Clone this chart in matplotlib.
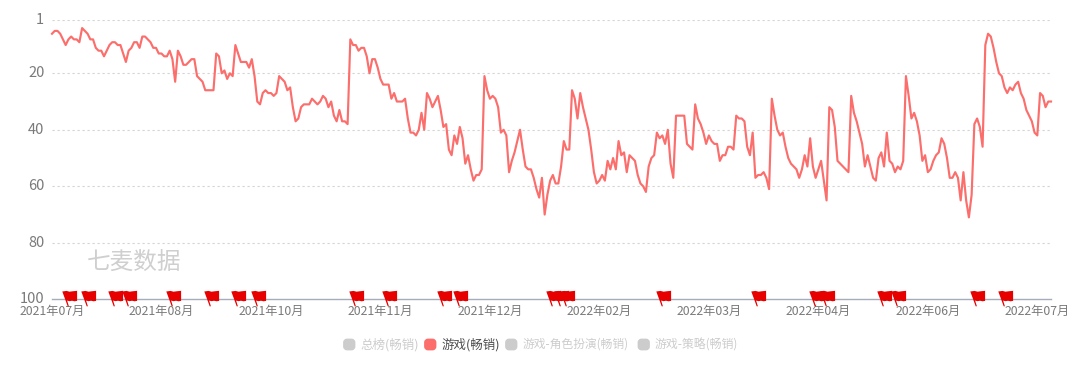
import matplotlib
matplotlib.use("Agg")
import matplotlib.pyplot as plt
from matplotlib.path import Path
from matplotlib.patches import FancyBboxPatch
from matplotlib.transforms import ScaledTranslation
import numpy as np

plt.rcParams['font.family'] = ['Noto Sans CJK SC', 'DejaVu Sans']

ranks = [
 6,5,5,6,8,10,8,7,8,8,9,4,5,6,8,8,11,12,12,14,12,10,9,9,10,10,13,16,12,11,9,9,11,7,7,8,9,11,11,13,
 13,14,14,12,15,23,12,14,17,17,16,15,15,21,22,23,26,26,26,26,13,14,20,19,22,20,21,10,13,16,16,16,18,15,21,30,31,27,26,27,
 27,28,27,21,22,23,26,25,32,37,36,32,31,31,31,29,30,31,30,28,29,32,30,35,37,33,37,37,38,8,10,10,12,11,11,14,20,15,15,18,
 22,24,24,24,29,27,30,30,30,29,36,41,41,42,40,34,40,27,29,32,30,28,33,39,38,47,49,42,45,39,43,52,49,54,58,56,56,54,21,26,
 29,28,29,32,41,40,42,55,51,48,44,40,47,53,54,54,57,61,64,57,70,63,58,56,59,59,53,44,47,47,26,29,36,27,32,36,40,47,55,59,
 58,56,58,51,54,50,54,44,49,48,55,49,50,51,56,59,60,62,53,50,49,41,43,42,45,40,52,57,35,35,35,35,45,46,47,31,36,38,41,45,
 42,44,45,45,51,49,49,46,46,47,35,36,36,37,46,49,41,57,56,56,55,57,61,29,35,40,42,41,46,50,52,53,54,57,54,49,53,43,53,57,
 54,51,58,65,32,33,39,51,52,53,54,55,28,34,37,41,45,53,49,53,57,58,50,48,53,41,51,52,55,53,54,51,21,28,36,34,37,42,51,49,
 55,54,51,49,48,43,45,50,57,57,55,57,65,55,65,71,63,38,36,39,46,10,6,7,11,16,20,21,25,27,25,26,24,23,27,29,33,35,37,41,
 42,27,28,32,30,30,
]
tick_labels = ['2021年07月','2021年08月','2021年10月','2021年11月','2021年12月',
               '2022年02月','2022年03月','2022年04月','2022年06月','2022年07月']
tick_days = [0,40,80,120,160,200,240,280,320,360]
flag_days = [5,12,22,27,43,57,67,74,110,122,142,148,182,185,187,222,257,278,282,303,308,337,347]
y_ticks = [1,20,40,60,80,100]
legend_names = ['总榜(畅销)','游戏(畅销)','游戏-角色扮演(畅销)','游戏-策略(畅销)']

W,H = 1080,376
fig = plt.figure(figsize=(W/100,H/100),dpi=100)
x0,x1,ytop,ybot = 52,1051,19.6,299.3
ax = fig.add_axes([x0/W,1-ybot/H,(x1-x0)/W,(ybot-ytop)/H])
ax.set_xlim(0,len(ranks)-1)
ax.set_ylim(100,1)
ax.plot(range(len(ranks)),ranks,color='#fb6e6c',lw=1.55,solid_joinstyle='round',zorder=3,clip_on=False)
for s in ['top','left','right']:
    ax.spines[s].set_visible(False)
ax.spines['bottom'].set_color('#a5adb8')
ax.spines['bottom'].set_linewidth(1)
for v in y_ticks[:-1]:
    ax.axhline(v,color='#d4d4d4',lw=0.8,dashes=(2,2.5),zorder=1)
ax.set_yticks(y_ticks)
ax.set_yticklabels([str(v) for v in y_ticks],fontsize=10.5,color='#7a7a7a')
ax.set_xticks(tick_days)
ax.set_xticklabels(tick_labels,fontsize=8.8,color='#7a7a7a')
ax.tick_params(axis='both',length=0)
ax.tick_params(axis='x',pad=4)
ax.tick_params(axis='y',pad=5.5)
for lab in ax.get_yticklabels():
    lab.set_transform(lab.get_transform()+ScaledTranslation(0,1.5/100,fig.dpi_scale_trans))

# flag outline in pixels around the point where the pole crosses the axis
flag = Path([(-4.2,8),(0,8.6),(3,7.8),(6,8.2),(10.6,8.7),(10.6,-1.4),(8,-1.8),(5.5,-1.2),(3,-1.7),(0.6,-1),
             (2.4,-6.8),(1.2,-6.8),(-4.2,8),(-4.2,8)],
            [1]+[2]*12+[79])
ax.scatter(flag_days,[100]*len(flag_days),marker=flag,s=(2*10.6*0.72)**2,color='#e60000',linewidths=0,zorder=4,clip_on=False)

fig.text(134/W,1-262.5/H,'七麦数据',fontsize=17,color='#cfcfcf',ha='center',va='center')

# legend
items = [(343,'#cccccc','#cccccc',9),(424,'#fb6e6c','#4d4d4d',9),(505,'#cccccc','#cccccc',8.5),(637.5,'#cccccc','#cccccc',8.6)]
bg = fig.add_axes([0,0,1,1],facecolor='none')
bg.set_xlim(0,W); bg.set_ylim(H,0); bg.axis('off')
for (lx,c,tc,fs),name in zip(items,legend_names):
    bg.add_patch(FancyBboxPatch((lx+1.5,340),9.5,9,boxstyle='round,pad=0,rounding_size=2.5',
                                mutation_scale=1,fc=c,ec=c,lw=2,joinstyle='round'))
    bg.text(lx+17.5,344.5,name,fontsize=fs,color=tc,va='center',ha='left')

fig.savefig('out.png',dpi=100)
